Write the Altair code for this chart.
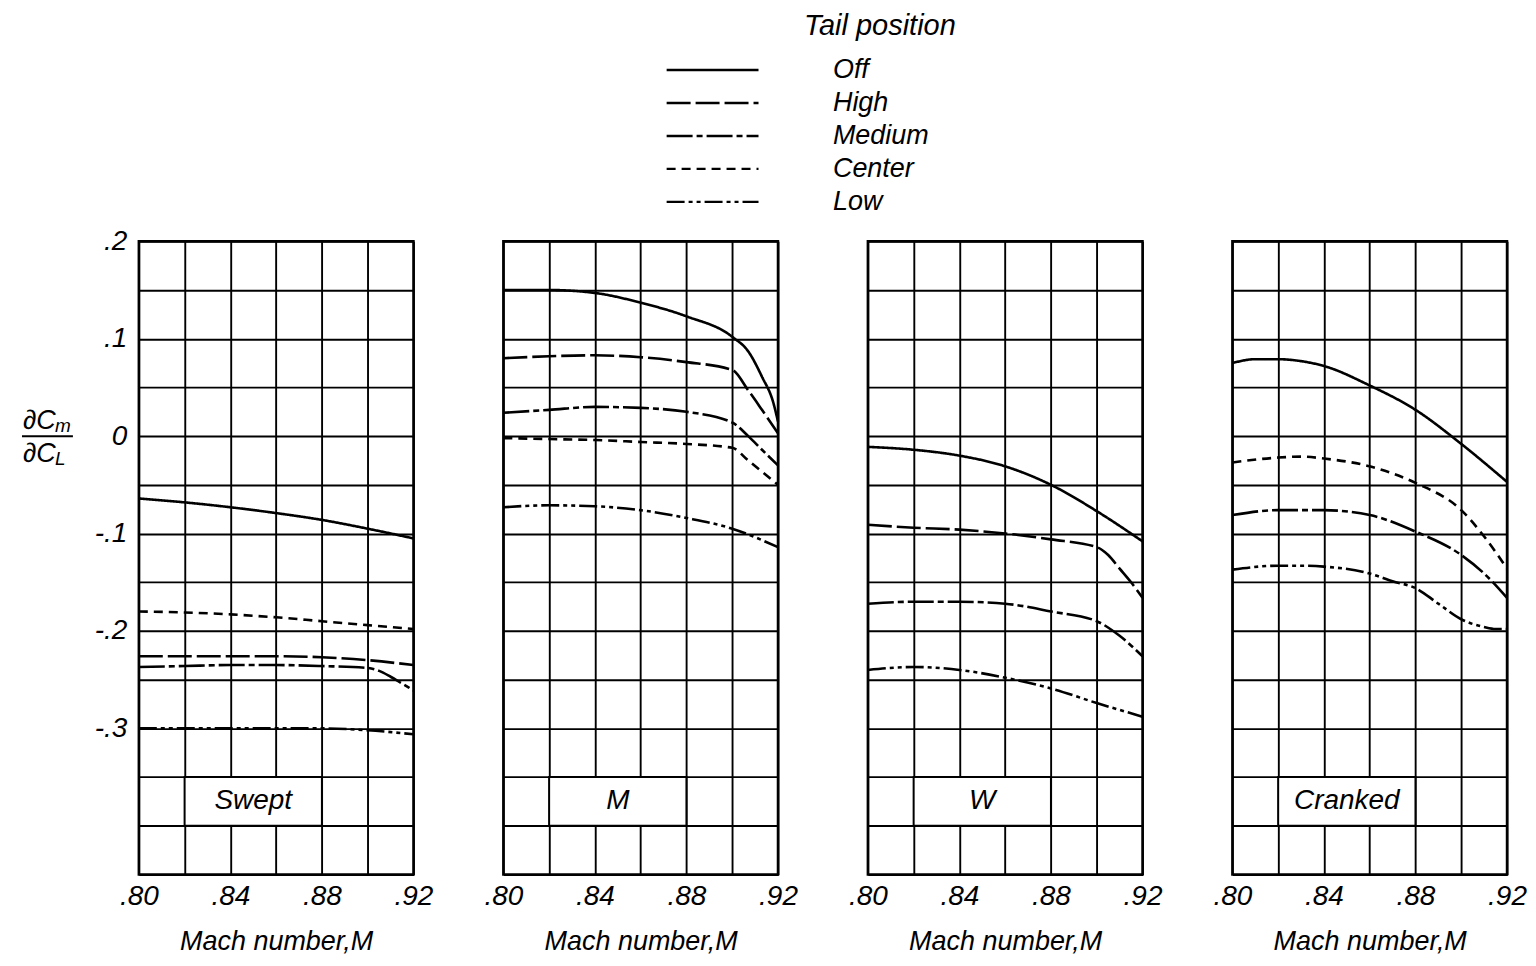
import altair as alt
import pandas as pd

FONT = "Liberation Sans"

PANELS = ["Swept", "M", "W", "Cranked"]
TAILS = ["Off", "High", "Medium", "Center", "Low"]
DASHES = [[1, 0], [24, 5], [26, 4, 6, 4], [9, 6], [18, 4, 4, 4, 4, 4]]

X_GRID = [0.80, 0.82, 0.84, 0.86, 0.88, 0.90, 0.92]
Y_GRID = [-0.45, -0.40, -0.35, -0.30, -0.25, -0.20, -0.15, -0.10, -0.05,
          0.0, 0.05, 0.10, 0.15, 0.20]

# ---- Swept ----
swept_off_m = [0.80, 0.82, 0.84, 0.86, 0.88, 0.90, 0.92]
swept_off_c = [-0.064, -0.068, -0.073, -0.079, -0.086, -0.095, -0.105]
swept_center_m = [0.80, 0.82, 0.84, 0.86, 0.88, 0.90, 0.92]
swept_center_c = [-0.180, -0.181, -0.183, -0.186, -0.190, -0.194, -0.198]
swept_high_m = [0.80, 0.82, 0.84, 0.86, 0.88, 0.90, 0.92]
swept_high_c = [-0.226, -0.226, -0.226, -0.226, -0.227, -0.230, -0.235]
swept_medium_m = [0.80, 0.82, 0.84, 0.86, 0.88, 0.90, 0.905, 0.91, 0.915, 0.92]
swept_medium_c = [-0.237, -0.236, -0.235, -0.235, -0.236, -0.238, -0.241, -0.247, -0.254, -0.261]
swept_low_m = [0.80, 0.84, 0.88, 0.90, 0.92]
swept_low_c = [-0.300, -0.300, -0.300, -0.302, -0.306]

# ---- M ----
m_off_m = [0.80, 0.82, 0.84, 0.86, 0.88, 0.90, 0.907, 0.913, 0.918, 0.92]
m_off_c = [0.150, 0.150, 0.147, 0.137, 0.123, 0.102, 0.087, 0.061, 0.034, 0.015]
m_high_m = [0.80, 0.82, 0.84, 0.86, 0.88, 0.90, 0.907, 0.913, 0.92]
m_high_c = [0.080, 0.082, 0.083, 0.081, 0.076, 0.068, 0.047, 0.027, 0.003]
m_medium_m = [0.80, 0.82, 0.84, 0.86, 0.88, 0.90, 0.907, 0.913, 0.92]
m_medium_c = [0.024, 0.027, 0.030, 0.029, 0.025, 0.014, 0.000, -0.014, -0.030]
m_center_m = [0.80, 0.82, 0.84, 0.86, 0.88, 0.90, 0.907, 0.92]
m_center_c = [-0.002, -0.003, -0.004, -0.006, -0.008, -0.012, -0.025, -0.050]
m_low_m = [0.80, 0.82, 0.84, 0.86, 0.88, 0.90, 0.92]
m_low_c = [-0.073, -0.071, -0.072, -0.076, -0.084, -0.095, -0.114]

# ---- W ----
w_off_m = [0.80, 0.82, 0.84, 0.86, 0.88, 0.90, 0.92]
w_off_c = [-0.011, -0.014, -0.020, -0.031, -0.050, -0.077, -0.108]
w_high_m = [0.80, 0.82, 0.84, 0.86, 0.88, 0.90, 0.905, 0.91, 0.915, 0.92]
w_high_c = [-0.091, -0.094, -0.096, -0.100, -0.106, -0.114, -0.122, -0.136, -0.150, -0.166]
w_medium_m = [0.80, 0.82, 0.84, 0.86, 0.88, 0.90, 0.91, 0.92]
w_medium_c = [-0.172, -0.170, -0.170, -0.172, -0.180, -0.190, -0.205, -0.226]
w_low_m = [0.80, 0.82, 0.84, 0.86, 0.88, 0.90, 0.92]
w_low_c = [-0.240, -0.237, -0.240, -0.248, -0.259, -0.274, -0.288]

# ---- Cranked ----
cr_off_m = [0.80, 0.81, 0.82, 0.83, 0.84, 0.86, 0.88, 0.90, 0.92]
cr_off_c = [0.075, 0.079, 0.079, 0.077, 0.072, 0.052, 0.027, -0.008, -0.047]
cr_center_m = [0.80, 0.82, 0.83, 0.84, 0.86, 0.88, 0.90, 0.91, 0.92]
cr_center_c = [-0.027, -0.022, -0.021, -0.023, -0.031, -0.048, -0.076, -0.103, -0.136]
cr_medium_m = [0.80, 0.82, 0.84, 0.86, 0.88, 0.90, 0.91, 0.92]
cr_medium_c = [-0.081, -0.076, -0.076, -0.081, -0.098, -0.122, -0.141, -0.166]
cr_low_m = [0.80, 0.82, 0.83, 0.84, 0.86, 0.87, 0.88, 0.89, 0.90, 0.91, 0.915, 0.92]
cr_low_c = [-0.137, -0.133, -0.133, -0.134, -0.141, -0.149, -0.156, -0.172, -0.188, -0.196, -0.198, -0.198]

CURVES = [
    ("Swept", "Off", swept_off_m, swept_off_c),
    ("Swept", "Center", swept_center_m, swept_center_c),
    ("Swept", "High", swept_high_m, swept_high_c),
    ("Swept", "Medium", swept_medium_m, swept_medium_c),
    ("Swept", "Low", swept_low_m, swept_low_c),
    ("M", "Off", m_off_m, m_off_c),
    ("M", "High", m_high_m, m_high_c),
    ("M", "Medium", m_medium_m, m_medium_c),
    ("M", "Center", m_center_m, m_center_c),
    ("M", "Low", m_low_m, m_low_c),
    ("W", "Off", w_off_m, w_off_c),
    ("W", "High", w_high_m, w_high_c),
    ("W", "Medium", w_medium_m, w_medium_c),
    ("W", "Low", w_low_m, w_low_c),
    ("Cranked", "Off", cr_off_m, cr_off_c),
    ("Cranked", "Center", cr_center_m, cr_center_c),
    ("Cranked", "Medium", cr_medium_m, cr_medium_c),
    ("Cranked", "Low", cr_low_m, cr_low_c),
]

rows = []
for panel, tail, ms, cs in CURVES:
    for m, c in zip(ms, cs):
        rows.append({"panel": panel, "tail": tail, "mach": m, "cm": c})
df = pd.DataFrame(rows)

X_LABELS = "round(datum.value*100) % 4 == 0 ? replace(format(datum.value, '.2f'), '0.', '.') : ''"
Y_LABELS = ("(round(datum.value*100) % 10 == 0 && datum.value > -0.31) ? "
            "(datum.value == 0 ? '0' : (datum.value < 0 ? '-' : '') + "
            "replace(format(abs(datum.value), '.1f'), '0.', '.')) : ''")

legend = alt.Legend(
    title=None, orient="none", legendX=527, legendY=-187, padding=0,
    symbolType="stroke", symbolSize=92 * 92, symbolStrokeWidth=2.4,
    symbolStrokeColor="black", clipHeight=31, rowPadding=2,
    labelFont=FONT, labelFontSize=27, labelFontStyle="italic",
    labelColor="black", labelOffset=73,
)

W, H = 275, 634


def panel_chart(name, first):
    data = df[df["panel"] == name]
    x = alt.X("mach:Q",
              scale=alt.Scale(domain=[0.80, 0.92], nice=False, zero=False),
              axis=alt.Axis(values=X_GRID, labelExpr=X_LABELS, title="Mach number,M",
                            grid=True, ticks=False, domain=False, labelOverlap=False,
                            labelFlush=False, labelPadding=8, titlePadding=18))
    y = alt.Y("cm:Q",
              scale=alt.Scale(domain=[-0.45, 0.2], nice=False, zero=False),
              axis=alt.Axis(values=Y_GRID, labelExpr=Y_LABELS, labels=first, title=None,
                            grid=True, ticks=False, domain=False, labelOverlap=False,
                            labelPadding=12))
    lines = alt.Chart(data).mark_line(color="black", strokeWidth=2.6, interpolate="monotone").encode(
        x=x, y=y,
        strokeDash=alt.StrokeDash("tail:N", scale=alt.Scale(domain=TAILS, range=DASHES), legend=legend),
    )
    lab = pd.DataFrame({"label": [name]})
    box = alt.Chart(lab).mark_rect(fill="white", stroke="black", strokeWidth=2).encode(
        x=alt.datum(0.82), x2=alt.datum(0.88), y=alt.datum(-0.40), y2=alt.datum(-0.35))
    txt = alt.Chart(lab).mark_text(font=FONT, fontSize=28, fontStyle="italic", color="black").encode(
        x=alt.datum(0.85), y=alt.datum(-0.375), text="label:N")
    layers = [lines, box, txt]
    if first:
        t = pd.DataFrame({"t": ["Tail position"]})
        layers.append(alt.Chart(t).mark_text(font=FONT, fontSize=29, fontStyle="italic",
                                             color="black").encode(
            x=alt.value(742), y=alt.value(-216), text="t:N"))
        yl = pd.DataFrame({"a": ["∂C"], "m": ["m"], "L": ["L"]})
        base = alt.Chart(yl)
        layers += [
            base.mark_text(font=FONT, fontSize=27, fontStyle="italic", align="left", color="black",
                           dy=-15).encode(x=alt.value(-116), y=alt.datum(0), text="a:N"),
            base.mark_text(font=FONT, fontSize=19, fontStyle="italic", align="left", color="black",
                           dy=-10).encode(x=alt.value(-84), y=alt.datum(0), text="m:N"),
            base.mark_text(font=FONT, fontSize=27, fontStyle="italic", align="left", color="black",
                           dy=18).encode(x=alt.value(-116), y=alt.datum(0), text="a:N"),
            base.mark_text(font=FONT, fontSize=19, fontStyle="italic", align="left", color="black",
                           dy=23).encode(x=alt.value(-84), y=alt.datum(0), text="L:N"),
            base.mark_rule(color="black", strokeWidth=2).encode(
                x=alt.value(-117), x2=alt.value(-66), y=alt.datum(0)),
        ]
    return alt.layer(*layers).properties(width=W, height=H)


charts = [panel_chart(p, i == 0) for i, p in enumerate(PANELS)]

chart = alt.hconcat(*charts, spacing=90, bounds="flush").properties(
    padding={"left": 11, "top": 1, "right": 0, "bottom": 0}
).configure_view(stroke="black", strokeWidth=2.5).configure_axis(
    gridColor="black", gridOpacity=1, gridWidth=1.9,
    labelFont=FONT, labelFontSize=28, labelFontStyle="italic", labelColor="black",
    titleFont=FONT, titleFontSize=27, titleFontStyle="italic", titleFontWeight="normal",
    titleColor="black",
)

chart.save("out.html", embed_options={"renderer": "svg", "actions": False})
